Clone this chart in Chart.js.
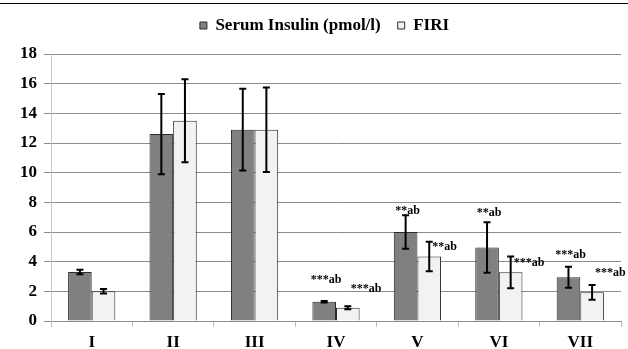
<!DOCTYPE html>
<html>
<head>
<meta charset="utf-8">
<script src="https://cdn.jsdelivr.net/npm/chart.js@4"></script>
<style>
    html, body { margin: 0; padding: 0; background: #fff; }
    #wrap { width: 628px; height: 349px; position: relative; }
</style>
</head>
<body>
<div id="wrap"><canvas id="insulinChart"></canvas></div>
<script>
// Groups and values
const groups = ['I', 'II', 'III', 'IV', 'V', 'VI', 'VII'];
const insulin = [3.3, 12.6, 12.9, 1.3, 6.0, 4.95, 2.95];
const insulinErr = [0.15, 2.7, 2.75, 0.05, 1.13, 1.7, 0.7];
const firi = [2.0, 13.5, 12.9, 0.9, 4.35, 3.28, 1.93];
const firiErr = [0.15, 2.8, 2.85, 0.1, 1.0, 1.07, 0.5];
const yTicks = [0, 2, 4, 6, 8, 10, 12, 14, 16, 18];

// significance marks and where they sit (value units)
const insulinNotes = ['', '', '', '***ab', '**ab', '**ab', '***ab'];
const insulinNoteY = [0, 0, 0, 2.76, 7.4, 7.3, 4.45];
const firiNotes = ['', '', '', '***ab', '**ab', '***ab', '***ab'];
const firiNoteY = [0, 0, 0, 2.15, 4.98, 3.93, 3.25];

const serif = 'Liberation Serif, Times New Roman, serif';

const errorBars = {
    id: 'errorBars',
    afterDatasetsDraw(chart) {
        const ctx = chart.ctx;
        const y = chart.scales.y;
        const errs = [insulinErr, firiErr];
        ctx.save();
        ctx.strokeStyle = '#000';
        chart.data.datasets.forEach((ds, i) => {
            chart.getDatasetMeta(i).data.forEach((bar, j) => {
                const v = ds.data[j];
                const top = y.getPixelForValue(v + errs[i][j]);
                const bot = y.getPixelForValue(v - errs[i][j]);
                const x = bar.x;
                ctx.lineWidth = 2;
                ctx.beginPath();
                ctx.moveTo(x, top); ctx.lineTo(x, bot);
                ctx.moveTo(x - 3.5, top); ctx.lineTo(x + 3.5, top);
                ctx.moveTo(x - 3.5, bot); ctx.lineTo(x + 3.5, bot);
                ctx.stroke();
            });
        });
        ctx.restore();
    }
};

const notes = {
    id: 'notes',
    afterDatasetsDraw(chart) {
        const ctx = chart.ctx;
        const y = chart.scales.y;
        ctx.save();
        ctx.fillStyle = '#000';
        ctx.font = 'bold 12px ' + serif;
        ctx.textBaseline = 'middle';
        const dark = chart.getDatasetMeta(0).data;
        const light = chart.getDatasetMeta(1).data;
        insulinNotes.forEach((t, j) => {
            if (!t) return;
            ctx.textAlign = 'center';
            ctx.fillText(t, dark[j].x + 2, y.getPixelForValue(insulinNoteY[j]));
        });
        firiNotes.forEach((t, j) => {
            if (!t) return;
            ctx.textAlign = 'left';
            ctx.fillText(t, light[j].x + 3, y.getPixelForValue(firiNoteY[j]));
        });
        ctx.restore();
    }
};

const topRule = {
    id: 'topRule',
    beforeDraw(chart) {
        const ctx = chart.ctx;
        ctx.save();
        ctx.strokeStyle = '#000';
        ctx.lineWidth = 1;
        ctx.beginPath();
        ctx.moveTo(0, 3.5); ctx.lineTo(chart.width, 3.5);
        ctx.stroke();
        ctx.restore();
    }
};

// fixed legend band height, legend nudged right like the original
const legendBand = {
    id: 'legendBand',
    beforeInit(chart) {
        const fit = chart.legend.fit;
        chart.legend.fit = function () {
            fit.call(this);
            this.height = 54;
        };
    },
    afterLayout(chart) {
        chart.legend.left += 28;
    }
};

const chartCtx = document.getElementById('insulinChart').getContext('2d');
const insulinChart = new Chart(chartCtx, {
    type: 'bar',
    data: {
        labels: groups,
        datasets: [{
            label: 'Serum Insulin (pmol/l)',
            data: insulin,
            backgroundColor: '#808080',
            borderColor: '#2b2b2b',
            borderWidth: 1
        }, {
            label: 'FIRI',
            data: firi,
            backgroundColor: '#f2f2f2',
            borderColor: '#2b2b2b',
            borderWidth: 1
        }]
    },
    options: {
        responsive: true,
        maintainAspectRatio: false,
        animation: false,
        datasets: {
            bar: { categoryPercentage: 0.58, barPercentage: 1.0 }
        },
        layout: { padding: { top: 0, right: 7, left: 0, bottom: 0 } },
        plugins: {
            legend: {
                position: 'top',
                labels: {
                    boxWidth: 7,
                    boxHeight: 7,
                    padding: 17,
                    color: '#000',
                    font: { family: serif, size: 17, weight: 'bold' }
                }
            },
            tooltip: { enabled: false }
        },
        scales: {
            x: {
                afterFit(scale) { scale.height = 28; },
                grid: { drawOnChartArea: false, color: '#bfbfbf', tickLength: 6 },
                border: { color: '#8c8c8c' },
                ticks: { color: '#000', padding: 7, font: { family: serif, size: 17, weight: 'bold', lineHeight: 1 } }
            },
            y: {
                min: 0,
                max: 18,
                afterFit(scale) { scale.width = 51; },
                afterBuildTicks(axis) { axis.ticks = yTicks.map(v => ({ value: v })); },
                grid: { color: '#8c8c8c', tickLength: 7 },
                border: { color: '#c8c8c8' },
                ticks: { color: '#000', padding: 7, font: { family: serif, size: 17, weight: 'bold' } }
            }
        }
    },
    plugins: [topRule, legendBand, errorBars, notes]
});
</script>
</body>
</html>
